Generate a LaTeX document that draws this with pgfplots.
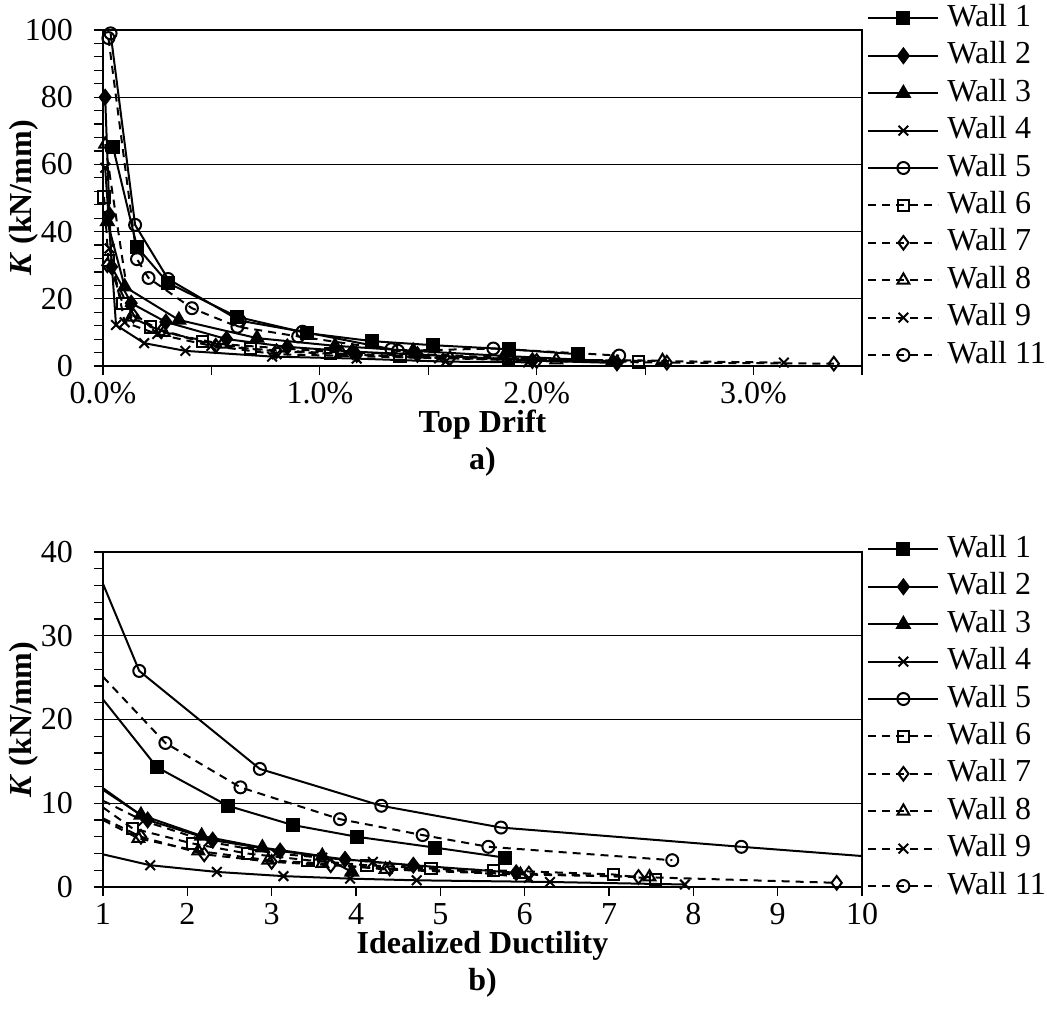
\documentclass[border=0pt]{standalone}
\usepackage{fontspec}
\setmainfont{Liberation Serif}
\usepackage{pgfplots}
\pgfplotsset{compat=1.18}

\newcommand{\fs}{\fontsize{16}{19}\selectfont}

\pgfplotsset{
  wallax/.style={
    width=379.5pt, scale only axis,
    axis line style={black, line width=0.6pt},
    ymajorgrids, grid style={black, line width=0.6pt},
    tick align=outside, tick style={black, line width=0.6pt},
    major tick length=4.5pt, minor tick length=4.5pt,
    xtick pos=left, ytick pos=left,
    tick label style={font=\fs},
    /pgf/number format/assume math mode=true,
    yticklabel style={xshift=-7pt},
    xlabel style={font=\fs\bfseries, at={(axis description cs:0.5,-0.175)}, anchor=center},
    every axis y label/.style={font=\fs\bfseries, at={(axis description cs:-0.105,0.5)}, rotate=90, anchor=center},
    ylabel={\textit{K} (kN/mm)},
    legend cell align=left,
    legend style={draw=none, fill=none, font=\fs, inner sep=0pt,
      at={(axis description cs:1,1)}, anchor=north west, xshift=2.5pt,
      nodes={inner sep=0pt, text height=11pt, text depth=3pt},
      row sep=4.7pt, column sep=4pt},
    legend image code/.code={\draw[##1,mark repeat=2,mark phase=2] plot coordinates {(0pt,0pt) (17.5pt,0pt) (35pt,0pt)};},
  },
  sol/.style={black, line width=1pt},
  das/.style={black, line width=1pt, dash pattern=on 4pt off 3pt, mark options={solid}},
  w1/.style={sol, mark=square*, mark size=3pt},
  w2/.style={sol, mark=diamond*, mark size=3.6pt},
  w3/.style={sol, mark=triangle*, mark size=3.6pt},
  w4/.style={sol, mark=x, mark size=3.4pt},
  w5/.style={sol, mark=o, mark size=3pt},
  w6/.style={das, mark=square, mark size=2.8pt},
  w7/.style={das, mark=diamond, mark size=3.4pt},
  w8/.style={das, mark=triangle, mark size=3.4pt},
  w9/.style={das, mark=x, mark size=3.4pt},
  w11/.style={das, mark=o, mark size=3pt},
}

\begin{document}
\begin{tikzpicture}
\path (-51.5pt,15pt) rectangle (472pt,-490.5pt);

% a) stiffness vs top drift
\begin{axis}[wallax, name=top, at={(0,0)}, anchor=north west, height=168pt,
  xmin=0, xmax=3.5, ymin=0, ymax=100,
  xtick={0,0.5,...,3.5}, xticklabels={0.0\%,,1.0\%,,2.0\%,,3.0\%,},
  ytick={0,20,...,100}, minor y tick num=4,
  xlabel={Top Drift},
  legend style={yshift=13pt},
]
\addplot[w1] coordinates {(0.046,65.2) (0.157,35.4) (0.30,24.7) (0.62,14.6) (0.94,9.8) (1.24,7.4) (1.52,6.2) (1.87,5.0) (2.19,3.5)};
\addlegendentry{Wall 1}
\addplot[w2] coordinates {(0.01,80) (0.03,45) (0.04,29.5) (0.13,18.7) (0.29,13.1) (0.57,8.0) (0.85,5.7) (1.15,4.3) (1.45,3.4) (1.98,1.6) (2.37,0.9)};
\addlegendentry{Wall 2}
\addplot[w3] coordinates {(0.02,43) (0.10,23.6) (0.35,13.7) (0.71,8.3) (1.07,6.0) (1.43,4.5) (1.85,3.0) (2.35,1.4)};
\addlegendentry{Wall 3}
\addplot[w4] coordinates {(0.01,59) (0.06,12.2) (0.19,6.8) (0.38,4.5) (0.78,2.8) (1.17,2.2) (1.58,1.3) (1.96,1.1)};
\addlegendentry{Wall 4}
\addplot[w5] coordinates {(0.035,99) (0.148,42) (0.30,25.9) (0.63,13.5) (0.92,10.2) (1.33,5.0)};
\addlegendentry{Wall 5}
\addplot[w6] coordinates {(0.005,50.3) (0.025,31.5) (0.09,18.7) (0.22,11.6) (0.46,7.2) (0.68,5.1) (1.05,3.8) (1.37,3.0) (1.87,2.2) (2.47,1.2)};
\addlegendentry{Wall 6}
\addplot[w7] coordinates {(0.02,30) (0.14,15) (0.27,10.5) (0.52,6.0) (0.80,4.4) (1.17,3.3) (1.60,2.3) (2.0,1.5) (2.6,1.0) (3.37,0.7)};
\addlegendentry{Wall 7}
\addplot[w8] coordinates {(0.01,66) (0.13,14.5) (0.28,10.0) (0.55,6.5) (1.10,4.0) (1.44,3.6) (2.09,1.8) (2.58,1.6)};
\addlegendentry{Wall 8}
\addplot[w9] coordinates {(0.03,35) (0.10,13) (0.25,9.5) (0.50,6.0) (0.80,3.5) (1.55,2.3) (3.14,1.0)};
\addlegendentry{Wall 9}
\addplot[w11] coordinates {(0.025,97.6) (0.157,31.8) (0.21,26.2) (0.41,17.2) (0.62,11.7) (0.90,8.8) (1.36,4.5) (1.80,5.2) (2.38,3.1)};
\addlegendentry{Wall 11}
\end{axis}
\node[font=\fs\bfseries] at (189.75pt,-216pt) {a)};

% b) stiffness vs idealized ductility
\begin{axis}[wallax, name=bot, at={(0,-261pt)}, anchor=north west, height=167.5pt,
  xmin=1, xmax=10, ymin=0, ymax=40,
  xtick={1,...,10},
  ytick={0,10,...,40}, minor y tick num=4,
  xlabel={Idealized Ductility},
  legend style={yshift=8.5pt},
  every axis plot/.append style={mark repeat=1, mark phase=2},
]
\addplot[w1] coordinates {(1,22.4) (1.64,14.3) (2.48,9.7) (3.25,7.4) (4.01,6.0) (4.94,4.7) (5.77,3.5)};
\addlegendentry{Wall 1}
\addplot[w2] coordinates {(1,11.8) (1.53,8.0) (2.30,5.6) (3.10,4.3) (3.87,3.3) (4.68,2.6) (5.90,1.7)};
\addlegendentry{Wall 2}
\addplot[w3] coordinates {(1,11.6) (1.45,8.6) (2.17,6.1) (2.89,4.7) (3.60,3.7) (3.95,1.8)};
\addlegendentry{Wall 3}
\addplot[w4] coordinates {(1,3.9) (1.56,2.6) (2.35,1.8) (3.14,1.3) (3.93,1.0) (4.72,0.8) (6.30,0.6) (7.90,0.3)};
\addlegendentry{Wall 4}
\addplot[w5] coordinates {(1,36.2) (1.43,25.8) (2.86,14.1) (4.30,9.7) (5.72,7.1) (8.57,4.8)};
\addlegendentry{Wall 5}
\addplot[w6] coordinates {(1,9.5) (1.35,7.0) (2.06,5.2) (2.71,4.0) (3.43,3.2) (4.13,2.6) (4.89,2.2) (5.63,2.0) (7.05,1.5) (7.55,0.9)};
\addlegendentry{Wall 6}
\addplot[w7] coordinates {(1,8.2) (1.45,6.0) (2.20,3.9) (3.00,3.0) (3.70,2.6) (4.40,2.2) (6.05,1.6) (7.35,1.2) (9.70,0.5)};
\addlegendentry{Wall 7}
\addplot[w8] coordinates {(1,8.0) (1.42,5.8) (2.13,4.3) (2.96,3.2) (3.60,2.8) (4.35,2.1) (5.95,1.5) (7.48,1.2)};
\addlegendentry{Wall 8}
\addplot[w9] coordinates {(1,10.3) (1.48,7.9) (2.25,5.4) (3.05,4.0) (3.60,3.5) (4.20,3.0) (6.05,1.1)};
\addlegendentry{Wall 9}
\addplot[w11] coordinates {(1,25.1) (1.74,17.2) (2.63,11.9) (3.81,8.1) (4.79,6.2) (5.57,4.8) (7.75,3.2)};
\addlegendentry{Wall 11}
\addplot[sol, mark=none, forget plot] coordinates {(8.57,4.8) (10,3.7)};
\end{axis}
\node[font=\fs\bfseries] at (189.75pt,-476.5pt) {b)};
\end{tikzpicture}
\end{document}
